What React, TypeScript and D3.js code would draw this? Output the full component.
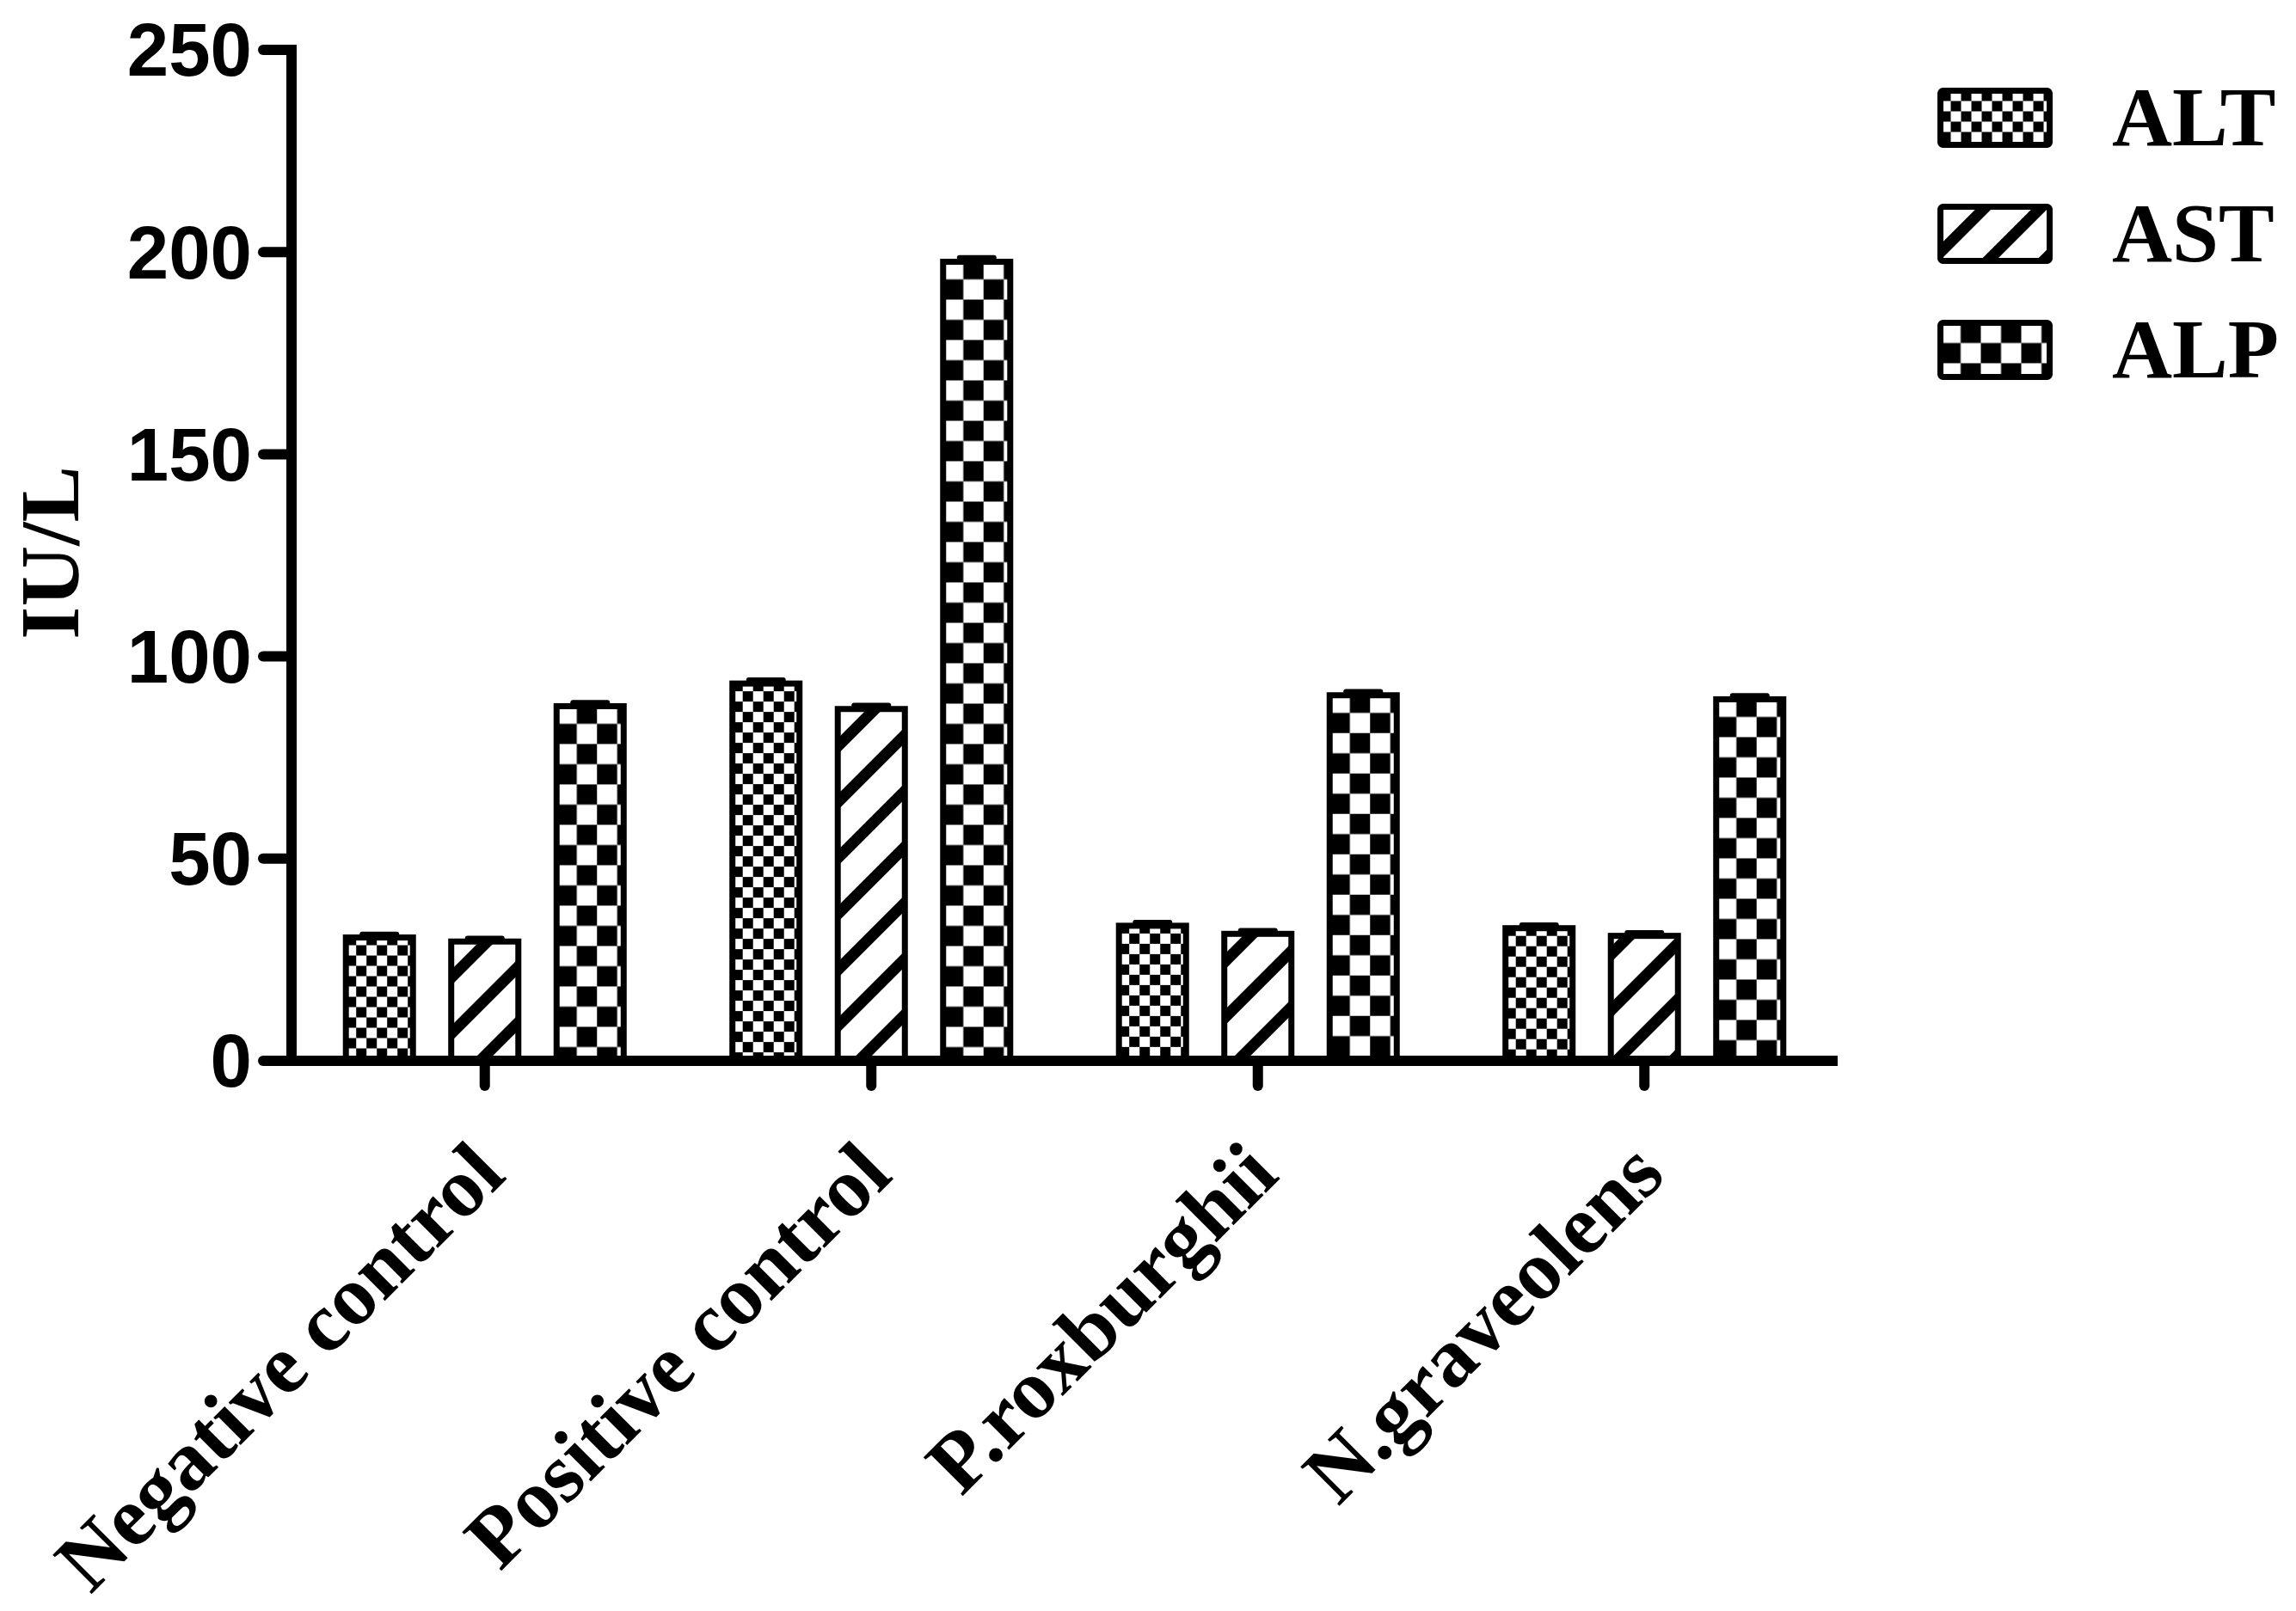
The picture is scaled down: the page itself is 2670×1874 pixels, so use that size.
import React from "react";
import * as d3 from "d3";

const categories = ["Negative control", "Positive control", "P.roxburghii", "N.graveolens"];
const seriesNames = ["ALT", "AST", "ALP"];
const altValues = [30.5, 93.3, 33.4, 32.8];
const astValues = [29.5, 87.0, 31.4, 30.9];
const alpValues = [87.7, 197.6, 90.4, 89.4];
const altErrors = [0.8, 0.9, 0.8, 0.8];
const astErrors = [0.8, 0.9, 0.8, 0.8];
const alpErrors = [0.9, 1.0, 0.9, 0.9];
const yTicks = [0, 50, 100, 150, 200, 250];
const yLabel = "IU/L";

const W = 2670;
const H = 1874;
const AXIS_X = 339;
const AXIS_Y = 1234;
const SERIF = "'Liberation Serif', 'Times New Roman', serif";
const SANS = "'Liberation Sans', Arial, sans-serif";

const seriesValues = [altValues, astValues, alpValues];
const seriesErrors = [altErrors, astErrors, alpErrors];

function PatternDef({ id, kind, x, y }: { id: string; kind: number; x: number; y: number }) {
  if (kind === 0) {
    const s = 12;
    return (
      <pattern id={id} patternUnits="userSpaceOnUse" x={x} y={y} width={2 * s} height={2 * s}>
        <rect width={2 * s} height={2 * s} fill="#fff" />
        <rect x={0} y={0} width={s} height={s} fill="#000" />
        <rect x={s} y={s} width={s} height={s} fill="#000" />
      </pattern>
    );
  }
  if (kind === 2) {
    const s = 23.5;
    return (
      <pattern id={id} patternUnits="userSpaceOnUse" x={x} y={y} width={2 * s} height={2 * s}>
        <rect width={2 * s} height={2 * s} fill="#fff" />
        <rect x={s} y={0} width={s} height={s} fill="#000" />
        <rect x={0} y={s} width={s} height={s} fill="#000" />
      </pattern>
    );
  }
  const p = 46;
  return (
    <pattern
      id={id}
      patternUnits="userSpaceOnUse"
      x={x}
      y={y}
      width={p}
      height={p}
      patternTransform="rotate(45)"
    >
      <rect width={p} height={p} fill="#fff" />
      <rect x={0} y={0} width={13} height={p} fill="#000" />
    </pattern>
  );
}

export default function App() {
  const x = d3.scaleBand<string>().domain(categories).range([AXIS_X, 2137]).padding(0);
  const inner = d3
    .scaleBand<string>()
    .domain(seriesNames)
    .range([0, x.bandwidth()])
    .paddingInner(0.363)
    .paddingOuter(0.516);
  const y = d3.scaleLinear().domain([0, 250]).range([AXIS_Y, 58]);

  const bars: any[] = [];
  categories.forEach((c, ci) => {
    seriesNames.forEach((s, si) => {
      const v = seriesValues[si][ci];
      const e = seriesErrors[si][ci];
      const bx = (x(c) as number) + (inner(s) as number);
      const bw = inner.bandwidth();
      bars.push({ id: `p-${ci}-${si}`, kind: si, bx, bw, top: y(v), errTop: y(v + e) });
    });
  });

  const legendRows = seriesNames.map((s, i) => ({ s, i, top: 105.5 + i * 135 }));

  return (
    <svg
      width={W}
      height={H}
      viewBox={`0 0 ${W} ${H}`}
      style={{ position: "absolute", left: 0, top: 0, background: "#fff", display: "block" }}
    >
      <defs>
        {bars.map((b) => (
          <PatternDef key={b.id} id={b.id} kind={b.kind} x={b.bx} y={b.top - 3} />
        ))}
        {legendRows.map((r) => (
          <PatternDef key={`lg-${r.i}`} id={`lg-${r.i}`} kind={r.i} x={2256.5} y={r.top} />
        ))}
      </defs>
      <rect width={W} height={H} fill="#fff" />

      {/* bars */}
      {bars.map((b) => (
        <g key={b.id}>
          <rect
            x={b.bx}
            y={b.top}
            width={b.bw}
            height={AXIS_Y - b.top}
            fill={`url(#${b.id})`}
            stroke="#000"
            strokeWidth={7}
          />
          <line
            x1={b.bx + b.bw / 2 - 20}
            x2={b.bx + b.bw / 2 + 20}
            y1={b.errTop}
            y2={b.errTop}
            stroke="#000"
            strokeWidth={6}
            strokeLinecap="round"
          />
        </g>
      ))}

      {/* y axis */}
      <line x1={AXIS_X} x2={AXIS_X} y1={52} y2={AXIS_Y + 6} stroke="#000" strokeWidth={12} />
      {yTicks.map((t) => (
        <g key={t}>
          <line
            x1={306}
            x2={AXIS_X}
            y1={y(t)}
            y2={y(t)}
            stroke="#000"
            strokeWidth={12}
            strokeLinecap="round"
          />
          <text
            x={293}
            y={y(t)}
            dy="0.35em"
            textAnchor="end"
            fontFamily={SANS}
            fontWeight="bold"
            fontSize={87}
            fill="#000"
          >
            {t}
          </text>
        </g>
      ))}

      {/* x axis */}
      <line x1={AXIS_X} x2={2137} y1={AXIS_Y} y2={AXIS_Y} stroke="#000" strokeWidth={12} />
      {categories.map((c) => {
        const cx = (x(c) as number) + x.bandwidth() / 2;
        return (
          <g key={c}>
            <line
              x1={cx}
              x2={cx}
              y1={AXIS_Y}
              y2={1263}
              stroke="#000"
              strokeWidth={12}
              strokeLinecap="round"
            />
            <text
              transform={`translate(${cx + 27},${1370}) rotate(-45)`}
              textAnchor="end"
              fontFamily={SERIF}
              fontWeight="bold"
              fontSize={98}
              fill="#000"
            >
              {c}
            </text>
          </g>
        );
      })}

      {/* y label */}
      <text
        transform={`translate(91,${643}) rotate(-90)`}
        textAnchor="middle"
        fontFamily={SERIF}
        fontWeight="bold"
        fontSize={98}
        fill="#000"
      >
        {yLabel}
      </text>

      {/* legend */}
      {legendRows.map((r) => (
        <g key={r.s}>
          <rect
            x={2256.5}
            y={r.top}
            width={127}
            height={63}
            rx={3}
            fill={`url(#lg-${r.i})`}
            stroke="#000"
            strokeWidth={7}
          />
          <text
            x={2456}
            y={r.top + 63}
            fontFamily={SERIF}
            fontWeight="bold"
            fontSize={97}
            fill="#000"
          >
            {r.s}
          </text>
        </g>
      ))}
    </svg>
  );
}
